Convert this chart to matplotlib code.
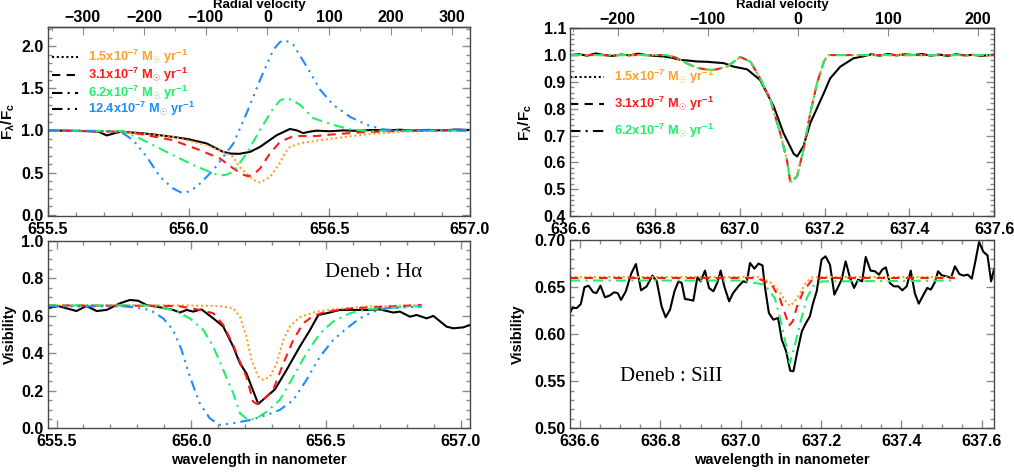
import matplotlib
matplotlib.use("Agg")
import matplotlib.pyplot as plt
from matplotlib.ticker import MultipleLocator, FixedLocator, FormatStrFormatter

C_KMS = 299792.458
HA_REST = 656.28
SI_REST = 637.137

ORANGE = "#ffa028"
RED = "#ff1a1a"
GREEN = "#1ef06a"
BLUE = "#1e8cff"
SPINE = "#484848"
TICK = "#8a8a8a"

HA_VEL_TICKS = [-300, -200, -100, 0, 100, 200, 300]
SI_VEL_TICKS = [-200, -100, 0, 100, 200]

# ---- H-alpha line profile (top left) ----
HA_OBS_WL = [655.50, 655.60, 655.68, 655.709, 655.74, 655.76, 655.827, 655.88, 655.944, 656.0,
             656.064, 656.122, 656.15, 656.18, 656.218, 656.254, 656.313, 656.36, 656.385,
             656.407, 656.43, 656.455, 656.5, 656.55, 656.6, 656.65, 656.7, 656.75, 656.8,
             656.85, 656.9, 656.95, 657.0]
HA_OBS_FLUX = [1.0, 0.995, 0.985, 0.94, 0.97, 0.985, 0.968, 0.95, 0.923, 0.895,
               0.845, 0.746, 0.725, 0.722, 0.745, 0.805, 0.943, 1.017, 1.0,
               0.968, 0.985, 0.997, 0.99, 1.0, 0.995, 1.005, 1.0, 1.008, 0.998,
               1.006, 1.0, 1.01, 1.005]

HA_WL_15 = [655.5, 655.767, 655.944, 656.064, 656.135, 656.158, 656.18, 656.193, 656.23,
            656.254, 656.29, 656.325, 656.343, 656.36, 656.4, 656.467, 656.55, 656.633,
            656.75, 656.85, 657.0]
HA_FLUX_15 = [1.0, 0.983, 0.923, 0.825, 0.726, 0.687, 0.569, 0.53, 0.411,
              0.382, 0.45, 0.618, 0.736, 0.805, 0.85, 0.884, 0.92, 0.953,
              0.983, 0.995, 1.0]

HA_WL_31 = [655.5, 655.767, 655.827, 655.944, 656.04, 656.111, 656.159, 656.19, 656.212,
            656.235, 656.254, 656.289, 656.325, 656.372, 656.455, 656.513, 656.609,
            656.75, 657.0]
HA_FLUX_31 = [1.0, 0.985, 0.958, 0.884, 0.766, 0.667, 0.549, 0.48, 0.455,
              0.49, 0.549, 0.726, 0.864, 0.933, 0.933, 0.953, 0.977,
              0.995, 1.0]

HA_WL_62 = [655.5, 655.767, 655.827, 655.886, 655.944, 656.017, 656.088, 656.111, 656.135,
            656.159, 656.206, 656.254, 656.301, 656.325, 656.343, 656.365, 656.396, 656.443,
            656.514, 656.574, 656.65, 656.72, 657.0]
HA_FLUX_62 = [1.0, 0.99, 0.904, 0.805, 0.707, 0.589, 0.49, 0.465, 0.475,
              0.51, 0.726, 1.007, 1.263, 1.355, 1.381, 1.365, 1.303, 1.145,
              1.066, 1.012, 0.99, 0.995, 1.0]

HA_WL_124 = [655.5, 655.756, 655.803, 655.851, 655.898, 655.944, 655.975, 656.0, 656.029,
             656.088, 656.159, 656.206, 656.254, 656.301, 656.325, 656.343, 656.372, 656.419,
             656.467, 656.514, 656.574, 656.633, 656.692, 656.75, 657.0]
HA_FLUX_124 = [1.0, 0.99, 0.884, 0.687, 0.45, 0.313, 0.26, 0.275, 0.332,
               0.53, 0.844, 1.204, 1.6, 1.957, 2.05, 2.07, 2.017, 1.76,
               1.484, 1.303, 1.16, 1.066, 1.012, 1.0, 1.0]

# ---- H-alpha visibility (bottom left) ----
HA_VIS_OBS_WL = [655.467, 655.506, 655.574, 655.611, 655.649, 655.686, 655.735, 655.772, 655.803,
                 655.834, 655.884, 655.933, 655.958, 655.983, 656.007, 656.038, 656.082,
                 656.119, 656.156, 656.181, 656.205, 656.224, 656.249, 656.28, 656.311,
                 656.354, 656.403, 656.441, 656.472, 656.502, 656.552, 656.601, 656.651,
                 656.7, 656.75, 656.775, 656.812, 656.837, 656.874, 656.899, 656.948,
                 656.973, 657.01, 657.035]
HA_VIS_OBS = [0.64, 0.652, 0.625, 0.652, 0.625, 0.631, 0.666, 0.684, 0.68,
              0.657, 0.645, 0.631, 0.617, 0.631, 0.622, 0.634, 0.586,
              0.542, 0.435, 0.346, 0.293, 0.222, 0.13, 0.169, 0.208,
              0.311, 0.435, 0.524, 0.604, 0.613, 0.631, 0.631, 0.631,
              0.634, 0.617, 0.622, 0.595, 0.604, 0.586, 0.599, 0.542,
              0.533, 0.538, 0.551]

HA_VIS_WL_15 = [655.467, 655.95, 656.1, 656.156, 656.181, 656.205, 656.224, 656.249, 656.267,
                656.292, 656.317, 656.342, 656.366, 656.403, 656.465, 656.527, 656.651, 656.855]
HA_VIS_15 = [0.655, 0.655, 0.652, 0.64, 0.595, 0.489, 0.364, 0.275, 0.258,
             0.275, 0.346, 0.471, 0.542, 0.592, 0.622, 0.634, 0.649, 0.657]

HA_VIS_WL_31 = [655.467, 655.95, 656.032, 656.082, 656.119, 656.156, 656.181, 656.205, 656.23,
                656.243, 656.267, 656.304, 656.342, 656.379, 656.416, 656.453, 656.502,
                656.601, 656.855]
HA_VIS_31 = [0.655, 0.652, 0.631, 0.613, 0.551, 0.444, 0.355, 0.275, 0.142,
             0.13, 0.151, 0.204, 0.346, 0.471, 0.56, 0.599, 0.622,
             0.64, 0.657]

HA_VIS_WL_62 = [655.467, 655.82, 655.884, 655.946, 655.995, 656.045, 656.082, 656.119, 656.156,
                656.181, 656.212, 656.243, 656.28, 656.329, 656.379, 656.428, 656.478,
                656.527, 656.589, 656.651, 656.855]
HA_VIS_62 = [0.655, 0.655, 0.649, 0.622, 0.586, 0.524, 0.435, 0.311, 0.187,
             0.08, 0.044, 0.053, 0.089, 0.151, 0.275, 0.4, 0.506,
             0.569, 0.613, 0.634, 0.652]

HA_VIS_WL_124 = [655.467, 655.75, 655.785, 655.847, 655.896, 655.933, 655.964, 655.995, 656.032,
                 656.069, 656.106, 656.156, 656.218, 656.28, 656.329, 656.379, 656.428,
                 656.478, 656.527, 656.577, 656.626, 656.676, 656.725, 656.855]
HA_VIS_124 = [0.65, 0.65, 0.645, 0.631, 0.586, 0.524, 0.418, 0.275, 0.133,
              0.053, 0.018, 0.027, 0.044, 0.071, 0.098, 0.151, 0.258,
              0.382, 0.471, 0.533, 0.586, 0.622, 0.64, 0.649]

# ---- Si II line profile (top right) ----
SI_OBS_WL = [636.6, 636.62, 636.64, 636.66, 636.68, 636.7, 636.72, 636.74, 636.76, 636.78,
             636.8, 636.82, 636.84, 636.86, 636.875, 636.9, 636.922, 636.945, 636.962,
             636.985, 637.017, 637.048, 637.08, 637.103, 637.127, 637.135, 637.15, 637.166,
             637.198, 637.213, 637.237, 637.268, 637.29, 637.31, 637.33, 637.35, 637.37,
             637.39, 637.41, 637.43, 637.45, 637.47, 637.49, 637.51, 637.53, 637.55,
             637.57, 637.6]
SI_OBS_FLUX = [1.0, 1.003, 0.998, 1.006, 1.0, 0.997, 1.002, 0.999, 1.005, 1.0,
               0.997, 0.995, 0.99, 0.982, 0.98, 0.976, 0.975, 0.972, 0.97,
               0.957, 0.947, 0.907, 0.808, 0.709, 0.632, 0.622, 0.66, 0.746,
               0.858, 0.913, 0.957, 0.988, 0.995, 1.003, 0.998, 1.004, 0.999,
               1.003, 1.0, 1.004, 0.998, 1.002, 0.997, 1.003, 0.999, 1.001,
               0.997, 1.002]

SI_MODEL_WL = [636.6, 636.828, 636.85, 636.875, 636.9, 636.922, 636.94, 636.97, 637.001,
               637.025, 637.048, 637.072, 637.095, 637.111, 637.119, 637.135, 637.15,
               637.166, 637.182, 637.198, 637.208, 637.6]
SI_MODEL_FLUX = [1.0, 1.0, 0.99, 0.969, 0.952, 0.946, 0.945, 0.957, 0.993,
                 0.975, 0.913, 0.833, 0.709, 0.61, 0.525, 0.548, 0.647,
                 0.783, 0.895, 0.975, 1.0, 1.0]

# ---- Si II visibility (bottom right) ----
SI_VIS_OBS_WL = [636.575, 636.581, 636.592, 636.602, 636.611, 636.621, 636.633, 636.641, 636.651,
                 636.662, 636.675, 636.685, 636.694, 636.702, 636.714, 636.727, 636.739,
                 636.752, 636.766, 636.78, 636.791, 636.803, 636.813, 636.824, 636.835,
                 636.845, 636.853, 636.861, 636.871, 636.882, 636.892, 636.9, 636.911,
                 636.921, 636.932, 636.942, 636.95, 636.959, 636.971, 636.981, 636.994,
                 637.006, 637.015, 637.023, 637.034, 637.044, 637.054, 637.06, 637.07,
                 637.081, 637.093, 637.102, 637.113, 637.123, 637.131, 637.141, 637.152,
                 637.161, 637.172, 637.18, 637.189, 637.201, 637.211, 637.222, 637.233,
                 637.243, 637.251, 637.261, 637.272, 637.282, 637.292, 637.302, 637.311,
                 637.323, 637.334, 637.344, 637.352, 637.361, 637.371, 637.381, 637.392,
                 637.402, 637.413, 637.423, 637.433, 637.443, 637.454, 637.464, 637.473,
                 637.483, 637.491, 637.5, 637.512, 637.523, 637.533, 637.544, 637.554,
                 637.565, 637.575, 637.583, 637.593, 637.604, 637.614, 637.623, 637.63]
SI_VIS_OBS = [0.6225, 0.6278, 0.6278, 0.632, 0.6498, 0.6515, 0.6445, 0.6437, 0.6515,
              0.6391, 0.6413, 0.6445, 0.6435, 0.6364, 0.6455, 0.6639, 0.6745,
              0.6466, 0.6508, 0.6622, 0.6561, 0.6296, 0.6179, 0.626, 0.6455,
              0.6561, 0.6544, 0.6374, 0.6367, 0.6356, 0.6604, 0.6561, 0.6675,
              0.6491, 0.6455, 0.6551, 0.6675, 0.6508, 0.6349, 0.6437, 0.6508,
              0.6561, 0.6551, 0.6756, 0.6696, 0.6749, 0.6731, 0.6508, 0.6225,
              0.6154, 0.6172, 0.5942, 0.5818, 0.5612, 0.5605, 0.5818, 0.603,
              0.6108, 0.619, 0.6331, 0.6455, 0.6792, 0.6827, 0.6738, 0.642,
              0.6508, 0.6579, 0.6774, 0.6597, 0.6491, 0.6579, 0.6561, 0.682,
              0.6675, 0.6668, 0.6632, 0.6685, 0.671, 0.6544, 0.6508, 0.6508,
              0.6466, 0.6508, 0.6675, 0.6437, 0.6324, 0.6413, 0.6491, 0.6473,
              0.6551, 0.6668, 0.6625, 0.6614, 0.6597, 0.6721, 0.6639, 0.6622,
              0.6632, 0.659, 0.6756, 0.6979, 0.6873, 0.6838, 0.6561, 0.6685]

SI_VIS_WL_15 = [636.575, 637.05, 637.077, 637.098, 637.112, 637.122, 637.133, 637.143, 637.164,
                637.18, 637.533]
SI_VIS_15 = [0.6607, 0.6607, 0.654, 0.644, 0.635, 0.630, 0.634, 0.640, 0.656,
             0.6607, 0.6607]

SI_VIS_WL_31 = [636.575, 637.04, 637.077, 637.098, 637.11, 637.12, 637.13, 637.139, 637.155,
                637.176, 637.201, 637.533]
SI_VIS_31 = [0.6597, 0.6597, 0.6526, 0.637, 0.622, 0.609, 0.614, 0.628, 0.645,
             0.657, 0.6597, 0.6597]

SI_VIS_WL_62 = [636.575, 637.0, 637.06, 637.085, 637.102, 637.114, 637.122, 637.135, 637.147,
                637.164, 637.18, 637.201, 637.533]
SI_VIS_62 = [0.657, 0.657, 0.6526, 0.638, 0.610, 0.585, 0.569, 0.589, 0.610,
             0.638, 0.651, 0.656, 0.657]

MDOT_LABELS = ["1.5", "3.1", "6.2", "12.4"]

plt.rcParams.update({
    "font.family": ["Liberation Sans", "DejaVu Sans"],
    "font.weight": "bold",
    "axes.labelweight": "bold",
    "font.size": 11,
    "mathtext.fontset": "custom",
    "mathtext.rm": "Liberation Sans:bold",
    "mathtext.bf": "Liberation Sans:bold",
    "mathtext.it": "Liberation Sans:bold",
    "mathtext.default": "bf",
    "axes.edgecolor": SPINE,
    "axes.linewidth": 1.0,
})

STYLES = {
    "1.5": dict(color=ORANGE, linestyle=(0, (1, 1.3))),
    "3.1": dict(color=RED, linestyle=(0, (4, 3))),
    "6.2": dict(color=GREEN, linestyle=(0, (5, 2.5, 1, 2.5))),
    "12.4": dict(color=BLUE, linestyle=(0, (5, 2.5, 1, 2.5, 1, 2.5, 1, 2.5))),
}
LW = 1.5
TICK_SIZE = 11.5


def style_axes(ax, xmajor, xminor, ymajor, yminor, xfmt, yfmt, top=True):
    ax.xaxis.set_major_locator(MultipleLocator(xmajor))
    ax.xaxis.set_minor_locator(MultipleLocator(xminor))
    ax.yaxis.set_major_locator(MultipleLocator(ymajor))
    ax.yaxis.set_minor_locator(MultipleLocator(yminor))
    ax.xaxis.set_major_formatter(FormatStrFormatter(xfmt))
    ax.yaxis.set_major_formatter(FormatStrFormatter(yfmt))
    ax.tick_params(which="both", direction="in", color=TICK, right=True, top=top,
                   labelsize=TICK_SIZE)
    ax.tick_params(axis="x", pad=4)
    ax.tick_params(axis="y", pad=3)
    ax.tick_params(which="major", length=6, width=1.0)
    ax.tick_params(which="minor", length=3, width=1.0)


def add_velocity_axis(ax, rest, ticks, minor, label_y):
    sec = ax.secondary_xaxis(
        "top",
        functions=(lambda w: (w - rest) / rest * C_KMS,
                   lambda v: rest + v * rest / C_KMS))
    sec.xaxis.set_major_locator(FixedLocator(ticks))
    sec.xaxis.set_minor_locator(MultipleLocator(minor))
    sec.tick_params(which="both", direction="in", color=TICK, labelsize=TICK_SIZE, pad=1)
    sec.tick_params(which="major", length=6)
    sec.tick_params(which="minor", length=3)
    sec.set_xlabel("Radial velocity", fontsize=9.5, va="center")
    # place the label in the parent's axes fraction (the secondary axes is a thin strip)
    sec.xaxis.set_label_coords(0.5, label_y, transform=ax.transAxes)
    return sec


def draw_legend(ax, labels, x0, x1, xt, ys):
    for lab, y in zip(labels, ys):
        st = STYLES[lab]
        ax.plot([x0, x1], [y, y], transform=ax.transAxes, color="black",
                linestyle=st["linestyle"], linewidth=LW, clip_on=False)
        ax.text(xt, y, lab + r"x10$^{-7}$ M$_{\odot}$ yr$^{-1}$", transform=ax.transAxes,
                color=st["color"], fontsize=9.3, fontweight="bold", va="center", ha="left")


def embolden(axes):
    for ax in axes:
        for lab in (ax.get_xticklabels(which="both") + ax.get_yticklabels(which="both")):
            lab.set_fontweight("bold")


fig = plt.figure(figsize=(10.14, 4.75), dpi=100)
ax_tl = fig.add_axes([0.0473, 0.5453, 0.4162, 0.3985])
ax_tr = fig.add_axes([0.5624, 0.5453, 0.4181, 0.3952])
ax_bl = fig.add_axes([0.0470, 0.0983, 0.4165, 0.3950])
ax_br = fig.add_axes([0.5621, 0.0983, 0.4181, 0.3964])

# top left: H-alpha profile
ax_tl.plot(HA_OBS_WL, HA_OBS_FLUX, color="black", linewidth=LW)
for lab, wl, fl in [("1.5", HA_WL_15, HA_FLUX_15), ("3.1", HA_WL_31, HA_FLUX_31),
                    ("6.2", HA_WL_62, HA_FLUX_62), ("12.4", HA_WL_124, HA_FLUX_124)]:
    ax_tl.plot(wl, fl, linewidth=LW, **STYLES[lab])
ax_tl.set_xlim(655.5, 657.0)
ax_tl.set_ylim(-0.015, 2.23)
style_axes(ax_tl, 0.5, 0.1, 0.5, 0.1, "%.1f", "%.1f", top=False)
sec_tl = add_velocity_axis(ax_tl, HA_REST, HA_VEL_TICKS, 50, 1.116)
ax_tl.set_ylabel(r"F$_{\lambda}$/F$_{c}$", fontsize=11, labelpad=3)
draw_legend(ax_tl, MDOT_LABELS, 0.01, 0.071, 0.095, [0.84, 0.745, 0.652, 0.567])

# top right: Si II profile
ax_tr.plot(SI_OBS_WL, SI_OBS_FLUX, color="black", linewidth=LW)
for lab in ["1.5", "3.1", "6.2"]:
    ax_tr.plot(SI_MODEL_WL, SI_MODEL_FLUX, linewidth=LW, **STYLES[lab])
ax_tr.set_xlim(636.6, 637.6)
ax_tr.set_ylim(0.4, 1.1)
style_axes(ax_tr, 0.2, 0.05, 0.1, 0.02, "%.1f", "%.1f", top=False)
sec_tr = add_velocity_axis(ax_tr, SI_REST, SI_VEL_TICKS, 50, 1.125)
ax_tr.set_ylabel(r"F$_{\lambda}$/F$_{c}$", fontsize=11, labelpad=7)
draw_legend(ax_tr, MDOT_LABELS[:3], 0.0, 0.08, 0.103, [0.741, 0.597, 0.453])

# bottom left: H-alpha visibility
ax_bl.plot(HA_VIS_OBS_WL, HA_VIS_OBS, color="black", linewidth=LW)
for lab, wl, v in [("1.5", HA_VIS_WL_15, HA_VIS_15), ("3.1", HA_VIS_WL_31, HA_VIS_31),
                   ("6.2", HA_VIS_WL_62, HA_VIS_62), ("12.4", HA_VIS_WL_124, HA_VIS_124)]:
    ax_bl.plot(wl, v, linewidth=LW, **STYLES[lab])
ax_bl.set_xlim(655.467, 657.035)
ax_bl.set_ylim(0.0, 1.0)
style_axes(ax_bl, 0.5, 0.1, 0.2, 0.05, "%.1f", "%.1f")
ax_bl.set_ylabel("Visibility", fontsize=10.5, labelpad=3)
ax_bl.set_xlabel("wavelength in nanometer", fontsize=10.5, labelpad=3)
ax_bl.text(0.656, 0.828, "Deneb : H\u03b1", transform=ax_bl.transAxes,
           family="Liberation Serif", fontweight="normal", fontsize=15, va="center")

# bottom right: Si II visibility
ax_br.plot(SI_VIS_OBS_WL, SI_VIS_OBS, color="black", linewidth=LW)
for lab, wl, v in [("1.5", SI_VIS_WL_15, SI_VIS_15), ("3.1", SI_VIS_WL_31, SI_VIS_31),
                   ("6.2", SI_VIS_WL_62, SI_VIS_62)]:
    ax_br.plot(wl, v, linewidth=LW, **STYLES[lab])
ax_br.set_xlim(636.575, 637.63)
ax_br.set_ylim(0.5, 0.7)
style_axes(ax_br, 0.2, 0.05, 0.05, 0.01, "%.1f", "%.2f")
ax_br.set_ylabel("Visibility", fontsize=10.5, labelpad=7)
ax_br.set_xlabel("wavelength in nanometer", fontsize=10.5, labelpad=3)
ax_br.text(0.118, 0.274, "Deneb : SiII", transform=ax_br.transAxes,
           family="Liberation Serif", fontweight="normal", fontsize=15, va="center")

fig.canvas.draw()
embolden([ax_tl, ax_tr, ax_bl, ax_br, sec_tl, sec_tr])
fig.savefig("out.png", dpi=100)
